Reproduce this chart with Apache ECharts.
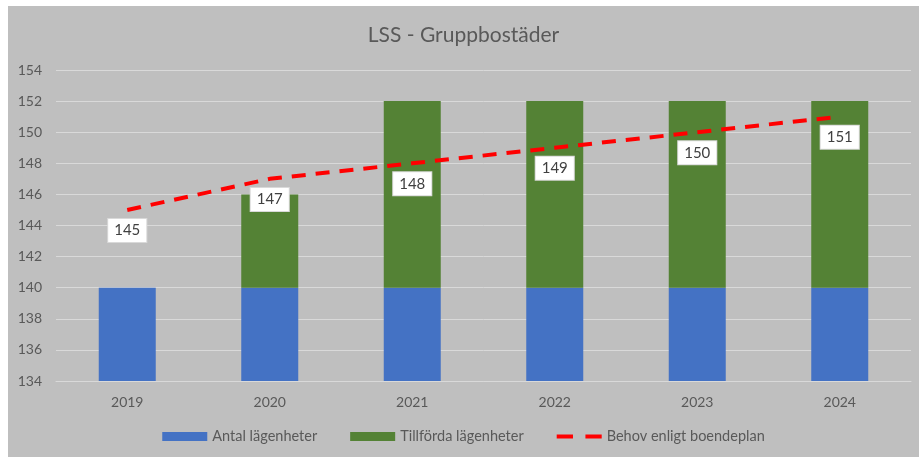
<!DOCTYPE html>
<html><head><meta charset="utf-8">
<script src="https://cdn.jsdelivr.net/npm/echarts@6/dist/echarts.min.js"></script>
<style>
html,body{margin:0;padding:0;background:#fff;}
#c{position:absolute;left:8px;top:6px;width:911px;height:451px;background:#bfbfbf;}
</style></head><body>
<div id="c"></div>
<script>
const categories = ['2019','2020','2021','2022','2023','2024'];
const antal = [140, 140, 140, 140, 140, 140];
const tillforda = [0, 6, 12, 12, 12, 12];
const behov = [145, 147, 148, 149, 150, 151];
const yTicks = {min: 134, max: 154, interval: 2};

const chart = echarts.init(document.getElementById('c'));
const font = "Lato, 'Open Sans', sans-serif";
chart.setOption({
  backgroundColor: '#bfbfbf',
  animation: false,
  title: {text: 'LSS - Gruppbostäder', left: 'center', top: 14,
    textStyle: {color: '#595959', fontSize: 21, fontWeight: 'normal', fontFamily: font}},
  grid: {left: 48, right: 8, top: 64, bottom: 76},
  legend: {bottom: 8, left: 'center', itemWidth: 45, itemHeight: 9, itemGap: 33,
    textStyle: {color: '#595959', fontSize: 14.5, fontFamily: font},
    data: [
      {name: 'Antal lägenheter', icon: 'rect'},
      {name: 'Tillförda lägenheter', icon: 'rect'},
      {name: 'Behov enligt boendeplan',
       icon: 'path://M0,0h0.05v0.05h-0.05z M0,2.5h17v4h-17z M30,2.5h17v4h-17z M46.95,8.95h0.05v0.05h-0.05z',
       itemStyle: {color: '#ff0000'}}
    ]},
  xAxis: {type: 'category', data: categories,
    axisLine: {show: true, lineStyle: {color: '#d9d9d9'}}, axisTick: {show: false},
    axisLabel: {color: '#595959', fontSize: 14, margin: 14, fontFamily: font}},
  yAxis: {type: 'value', min: yTicks.min, max: yTicks.max, interval: yTicks.interval,
    axisLine: {show: false}, axisTick: {show: false},
    splitLine: {lineStyle: {color: '#d9d9d9', width: 1}},
    axisLabel: {color: '#595959', fontSize: 14, margin: 14, fontFamily: font}},
  series: [
    {name: 'Antal lägenheter', type: 'bar', stack: 's', data: antal, barWidth: '40%',
      itemStyle: {color: '#4472c4'}},
    {name: 'Tillförda lägenheter', type: 'bar', stack: 's', data: tillforda, barWidth: '40%',
      itemStyle: {color: '#548235'}},
    {name: 'Behov enligt boendeplan', type: 'line', data: behov, symbol: 'circle', symbolSize: 0.1,
      lineStyle: {color: '#ff0000', width: 4, type: [14, 10]},
      itemStyle: {color: '#ff0000'},
      label: {show: true, position: 'bottom', distance: 9, color: '#404040', fontSize: 15,
        fontFamily: font, backgroundColor: '#ffffff', borderColor: '#d9d9d9', borderWidth: 1,
        padding: [4, 6]}}
  ]
});
</script>
</body></html>
